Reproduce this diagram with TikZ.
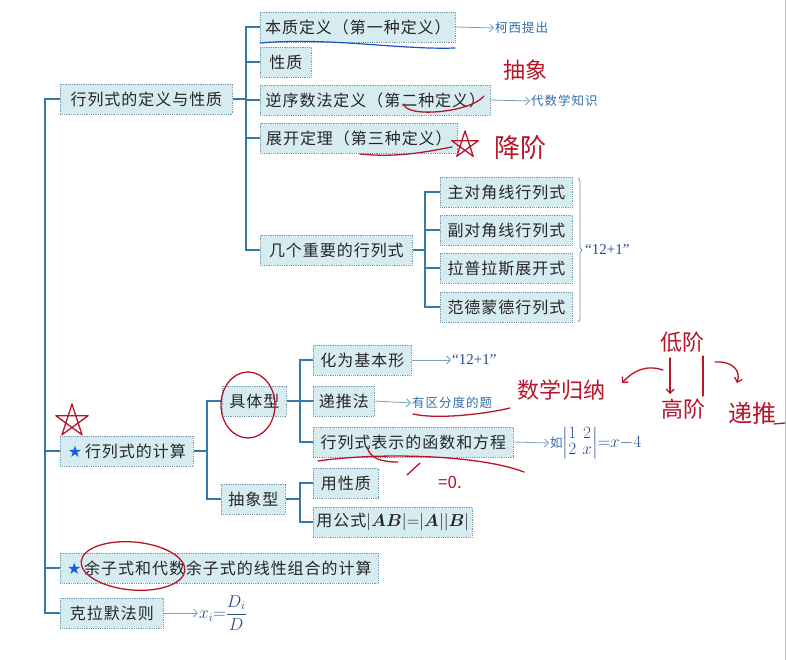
\documentclass[tikz,border=0pt]{standalone}
\usepackage{amsmath}
\usepackage{fontspec}
\setmainfont{Liberation Serif}
\newfontfamily\zhfont[LetterSpace=6]{Noto Sans CJK SC}
\newfontfamily\zhhand{Noto Sans CJK SC}
\newfontfamily\zhnote[LetterSpace=8]{Noto Sans CJK SC}
\newfontfamily\symfont{DejaVu Sans}
\usetikzlibrary{arrows.meta,decorations.pathreplacing}
\definecolor{boxfill}{RGB}{215,236,241}
\definecolor{boxline}{RGB}{115,155,175}
\definecolor{trunk}{RGB}{55,120,170}
\definecolor{arr}{RGB}{120,160,195}
\definecolor{note}{RGB}{50,110,170}
\definecolor{quote}{RGB}{40,75,140}
\definecolor{pen}{RGB}{185,20,40}
\definecolor{bpen}{RGB}{30,80,200}
\definecolor{starblue}{RGB}{20,95,225}
\begin{document}
\begin{tikzpicture}[x=1pt,y=-1pt,
 box/.style={draw=boxline, densely dotted, line width=0.8pt, fill=boxfill, minimum height=30pt, inner xsep=3pt, inner ysep=0pt, anchor=west, font=\zhfont\fontsize{16}{18}\selectfont, text=black!85},
 trunkline/.style={draw=trunk, line width=1.2pt},
 notearrow/.style={draw=arr, line width=0.8pt, -{Straight Barb[length=4pt,width=8pt]}},
 notetext/.style={anchor=west, text=note, font=\zhnote\fontsize{12.5}{14}\selectfont, inner sep=1pt},
 quotetext/.style={anchor=west, text=quote, font=\fontsize{15}{17}\selectfont, inner sep=1pt},
 mathtext/.style={anchor=west, text=quote, inner sep=1pt},
 pentext/.style={text=pen, font=\zhhand\fontsize{22}{24}\selectfont, inner sep=0pt},
 penline/.style={draw=pen, line width=1.3pt, line cap=round, line join=round},
 penarrow/.style={penline, -{Straight Barb[length=4pt,width=8pt]}},
]
\fill[white] (0,0) rectangle (787,660);
\useasboundingbox (0,0) rectangle (787,660);
\draw[black!25, line width=1pt] (785.5,0) -- (785.5,660);

% level 1
\node[box, minimum width=172pt] (n1) at (60,99) {行列式的定义与性质};
\node[box, minimum width=133pt] (n2) at (60,451) {\textcolor{starblue}{\symfont ★}\,行列式的计算};
\node[box, minimum width=318pt] (n3) at (60,568) {\textcolor{starblue}{\symfont ★}\,余子式和代数余子式的线性组合的计算};
\node[box, minimum width=103pt] (n4) at (60,613) {克拉默法则};

% level 2 (definition)
\node[box, minimum width=195pt] (a1) at (260,27) {本质定义（第一种定义）};
\node[box, minimum width=51pt] (a2) at (260,62) {性质};
\node[box, minimum width=230pt] (a3) at (260,100) {逆序数法定义（第二种定义）};
\node[box, minimum width=197pt] (a4) at (260,138) {展开定理（第三种定义）};
\node[box, minimum width=152pt] (a5) at (260,250) {几个重要的行列式};

\node[box, minimum width=132pt] (b1) at (440,192) {主对角线行列式};
\node[box, minimum width=132pt] (b2) at (440,230) {副对角线行列式};
\node[box, minimum width=132pt] (b3) at (440,268) {拉普拉斯展开式};
\node[box, minimum width=132pt] (b4) at (440,307) {范德蒙德行列式};

% level 2 (computation)
\node[box, minimum width=64pt] (c1) at (222,401) {具体型};
\node[box, minimum width=64pt] (c2) at (221,499) {抽象型};
\node[box, minimum width=98pt] (d1) at (313,360) {化为基本形};
\node[box, minimum width=61pt] (d2) at (313,401) {递推法};
\node[box, minimum width=200pt] (d3) at (313,442) {行列式表示的函数和方程};
\node[box, minimum width=65pt] (e1) at (313,483) {用性质};
\node[box, minimum width=150pt] (e2) at (313,522) {用公式$|\boldsymbol{AB}|{=}|\boldsymbol{A}||\boldsymbol{B}|$};

% trunk connectors
\draw[trunkline] (n1.west) -- ++(-15,0) |- (n4.west);
\draw[trunkline] (n2.west) -- ++(-15,0);
\draw[trunkline] (n3.west) -- ++(-15,0);

\draw[trunkline] (n1.east) -- ++(14,0);
\draw[trunkline] (a1.west) -- ++(-14,0) |- (a5.west);
\draw[trunkline] (a2.west) -- ++(-14,0);
\draw[trunkline] (a3.west) -- ++(-14,0);
\draw[trunkline] (a4.west) -- ++(-14,0);

\draw[trunkline] (a5.east) -- ++(13,0);
\draw[trunkline] (b1.west) -- ++(-15,0) |- (b4.west);
\draw[trunkline] (b2.west) -- ++(-15,0);
\draw[trunkline] (b3.west) -- ++(-15,0);

\draw[trunkline] (n2.east) -- ++(14,0);
\draw[trunkline] (c1.west) -- ++(-15,0) |- (c2.west);

\draw[trunkline] (c1.east) -- ++(14,0);
\draw[trunkline] (d1.west) -- ++(-13,0) |- (d3.west);
\draw[trunkline] (d2.west) -- ++(-13,0);

\draw[trunkline] (c2.east) -- ++(15,0);
\draw[trunkline] (e1.west) -- ++(-13,0) |- (e2.west);

% notes
\node[notetext] (t1) at (494,28) {柯西提出};
\draw[notearrow] (a1.east) -- (t1.west);
\node[notetext] (t3) at (530,101) {代数学知识};
\draw[notearrow] (a3.east) -- (t3.west);
\draw[decorate, decoration={brace, amplitude=4pt}, draw=boxline, line width=0.8pt] (578,178) -- (578,322);
\node[quotetext] (tb) at (584,250) {“12+1”};
\node[quotetext] (td1) at (451,360) {“12+1”};
\draw[notearrow] (d1.east) -- (td1.west);
\node[notetext] (td2) at (411,403) {有区分度的题};
\draw[notearrow] (d2.east) -- (td2.west);
\node[mathtext, font=\fontsize{17}{19}\selectfont] (td3) at (549,443) {{\zhhand\fontsize{12.5}{14}\selectfont\color{note}如}$\setlength{\arraycolsep}{3pt}\renewcommand{\arraystretch}{0.8}\begin{vmatrix}1&2\\2&x\end{vmatrix}\!{=}x{-}4$};
\draw[notearrow] (d3.east) -- (td3.west);
\node[mathtext, font=\fontsize{17}{20}\selectfont] (tn4) at (198,613) {$x_i{=}\dfrac{D_i}{D}$};
\draw[notearrow] (n4.east) -- (tn4.west);

% handwritten annotations
\draw[draw=bpen, line width=1.2pt, line cap=round] (260,43) .. controls (330,37) and (400,50) .. (455,48);
\node[pentext] (h1) at (525,70) {抽象};
\draw[penline] (404,104) .. controls (405,118) and (470,113) .. (484,96);
\draw[penline] (360,154) .. controls (400,158) and (430,151) .. (452,147);
\draw[penline, shift={(465,145)}] (270:14) -- (54:14) -- (198:14) -- (342:14) -- (126:14) -- cycle;
\node[pentext, font=\zhhand\fontsize{26}{28}\selectfont] (h2) at (520,148) {降阶};

\draw[penline, shift={(72,421)}] (270:17) -- (54:17) -- (198:17) -- (342:17) -- (126:17) -- cycle;
\draw[penline] (248,405) ellipse [x radius=27pt, y radius=33pt];
\draw[penline] (413,414) .. controls (440,420) and (490,413) .. (510,408);
\node[pentext] (h3) at (561,390) {数学归纳};
\draw[penline] (318,461) .. controls (380,452) and (480,455) .. (524,472);
\draw[penline] (367,447) .. controls (370,458) and (380,462) .. (398,462);
\draw[penline] (407,475) -- (420,463);
\node[pentext, font=\zhhand\fontsize{17}{19}\selectfont] (h4) at (450,482) {=0.};
\node[pentext, font=\zhhand\fontsize{22}{24}\selectfont] (h5) at (682,342) {低阶};
\node[pentext, font=\zhhand\fontsize{22}{24}\selectfont] (h6) at (683,409) {高阶};
\draw[penarrow] (670,358) -- (670,394);
\draw[penline] (703,356) -- (703,396);
\draw[penarrow] (663,370) .. controls (645,364) and (632,372) .. (622,383);
\draw[penarrow] (715,362) .. controls (732,361) and (741,370) .. (737,383);
\node[pentext, font=\zhhand\fontsize{24}{26}\selectfont] (h7) at (752,413) {递推};
\draw[penline] (774,424) -- (785,423);
\draw[penline, rotate around={-5:(133,566)}] (133,566) ellipse [x radius=52pt, y radius=24pt];
\end{tikzpicture}
\end{document}
